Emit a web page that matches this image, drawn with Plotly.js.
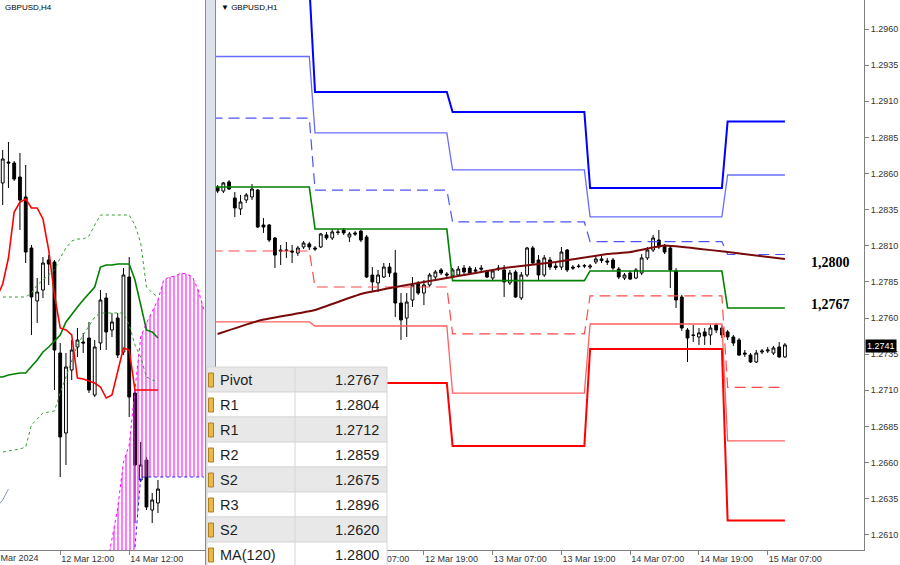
<!DOCTYPE html>
<html>
<head>
<meta charset="utf-8">
<script src="https://cdn.plot.ly/plotly-3.0.1.min.js"></script>
<style>html,body{margin:0;padding:0;background:#fff;}#chart{width:900px;height:565px;}</style>
</head>
<body>
<div id="chart"></div>
<script>
// ---------- H1 (right panel) data: bars from 11 Mar 07:00, hourly ----------
const h1FirstHour = 7; // hours after 2024-03-11 00:00
const h1Open = [1.28507,1.28479,1.28542,1.28431,1.28355,1.28417,1.28438,1.28486,1.28244,1.28244,
1.28154,1.28071,1.28071,1.28064,1.28050,1.28092,1.28113,1.28085,1.28092,1.28175,
1.28154,1.28196,1.28209,1.28161,1.28189,1.28202,1.28161,1.27898,1.27843,1.27884,
1.27953,1.27912,1.27704,1.27600,1.27725,1.27843,1.27773,1.27829,1.27884,1.27933,
1.27905,1.27891,1.27898,1.27946,1.27946,1.27933,1.27946,1.27926,1.27877,1.27946,
1.27933,1.27843,1.27919,1.27739,1.27898,1.28085,1.28002,1.27898,1.28002,1.27960,
1.27953,1.28071,1.27953,1.27960,1.27960,1.27953,1.27988,1.27998,1.27995,1.28002,
1.27939,1.27877,1.27912,1.27877,1.27912,1.28016,1.28071,1.28140,1.28099,1.28085,
1.27926,1.27746,1.27517,1.27483,1.27469,1.27504,1.27483,1.27552,1.27531,1.27504,
1.27469,1.27448,1.27358,1.27344,1.27296,1.27365,1.27372,1.27358,1.27400,1.27331];
const h1High = [1.28521,1.28542,1.28555,1.28472,1.28452,1.28465,1.28528,1.28493,1.28292,1.28251,
1.28161,1.28106,1.28126,1.28106,1.28099,1.28133,1.28126,1.28099,1.28189,1.28196,
1.28216,1.28216,1.28223,1.28196,1.28202,1.28209,1.28175,1.27953,1.27933,1.27981,
1.27981,1.28071,1.27773,1.27773,1.27884,1.27856,1.27863,1.27912,1.27933,1.27946,
1.27919,1.27946,1.27960,1.27967,1.27960,1.27953,1.27967,1.27933,1.27939,1.27967,
1.27967,1.27933,1.27933,1.27919,1.28092,1.28099,1.28036,1.28036,1.28023,1.27988,
1.28092,1.28078,1.27967,1.27974,1.27974,1.27974,1.28030,1.28030,1.28016,1.28016,
1.27953,1.27912,1.27926,1.27946,1.28043,1.28092,1.28175,1.28209,1.28113,1.28106,
1.27946,1.27760,1.27531,1.27552,1.27531,1.27531,1.27552,1.27566,1.27552,1.27517,
1.27483,1.27462,1.27379,1.27358,1.27379,1.27386,1.27400,1.27407,1.27434,1.27427];
const h1Low = [1.28465,1.28465,1.28486,1.28299,1.28313,1.28396,1.28417,1.28223,1.28189,1.28126,
1.27946,1.27967,1.28016,1.27981,1.28030,1.28078,1.28071,1.28064,1.28085,1.28140,
1.28140,1.28175,1.28175,1.28126,1.28168,1.28126,1.27877,1.27787,1.27780,1.27877,
1.27884,1.27607,1.27448,1.27469,1.27677,1.27760,1.27690,1.27815,1.27870,1.27898,
1.27877,1.27877,1.27884,1.27905,1.27898,1.27905,1.27919,1.27877,1.27863,1.27926,
1.27746,1.27829,1.27739,1.27725,1.27884,1.27967,1.27863,1.27884,1.27933,1.27933,
1.27933,1.27919,1.27933,1.27946,1.27946,1.27939,1.27974,1.27981,1.27967,1.27933,
1.27870,1.27863,1.27863,1.27870,1.27898,1.28002,1.28057,1.28078,1.28043,1.27808,
1.27670,1.27511,1.27296,1.27434,1.27414,1.27414,1.27414,1.27497,1.27462,1.27448,
1.27407,1.27338,1.27331,1.27289,1.27289,1.27351,1.27358,1.27344,1.27324,1.27324];
const h1Close = [1.28479,1.28535,1.28493,1.28362,1.28403,1.28452,1.28493,1.28230,1.28230,1.28140,
1.28036,1.28064,1.28068,1.28057,1.28085,1.28119,1.28092,1.28078,1.28182,1.28154,
1.28196,1.28193,1.28189,1.28182,1.28182,1.28140,1.27884,1.27850,1.27898,1.27953,
1.27912,1.27704,1.27587,1.27711,1.27829,1.27773,1.27829,1.27898,1.27919,1.27912,
1.27898,1.27933,1.27939,1.27919,1.27912,1.27926,1.27939,1.27884,1.27926,1.27943,
1.27850,1.27912,1.27746,1.27898,1.28085,1.27981,1.27898,1.28016,1.27953,1.27950,
1.28057,1.27933,1.27946,1.27957,1.27963,1.27960,1.28009,1.28009,1.27988,1.27946,
1.27884,1.27898,1.27870,1.27933,1.28016,1.28071,1.28154,1.28092,1.28057,1.27933,
1.27725,1.27531,1.27462,1.27480,1.27497,1.27476,1.27531,1.27517,1.27483,1.27469,
1.27427,1.27344,1.27351,1.27296,1.27358,1.27372,1.27379,1.27393,1.27331,1.27414];

// Daily pivot levels (11..15 Mar)
const pivotDays = ['2024-03-11','2024-03-12','2024-03-13','2024-03-14','2024-03-15'];
const levelR3 = [1.29904,1.29164,1.29026,1.28500,1.2896];
const levelR2 = [1.29410,1.28881,1.28625,1.28300,1.2859];
const levelR1 = [1.28984,1.28486,1.28265,1.28129,1.2804];
const levelP  = [1.28507,1.28216,1.27859,1.27926,1.2767];
const levelS1 = [1.28064,1.27815,1.27490,1.27753,1.2712];
const levelS2 = [1.27573,1.27545,1.27081,1.27559,1.2675];
const levelS3 = [1.27144,1.27151,1.26715,1.27386,1.2620];

// MA(120) readings (hour offsets from 11 Mar 00:00)
const maHours  = [7,14,24,32,40,48,57,66,75,79,85,96,106];
const maValues = [1.27490,1.27580,1.27656,1.27767,1.27829,1.27884,1.27946,1.27988,1.28043,1.28057,1.28102,1.28057,1.28009];

// Axis ticks (right panel)
const h1TickVals = ['2024-03-12 07:00','2024-03-12 19:00','2024-03-13 07:00','2024-03-13 19:00','2024-03-14 07:00','2024-03-14 19:00','2024-03-15 07:00'];
const h1TickText = ['12 Mar 07:00','12 Mar 19:00','13 Mar 07:00','13 Mar 19:00','14 Mar 07:00','14 Mar 19:00','15 Mar 07:00'];
const yTickVals = [1.2610,1.2635,1.2660,1.2685,1.2710,1.2735,1.2760,1.2785,1.2810,1.2835,1.2860,1.2885,1.2910,1.2935,1.2960];
const lastPrice = 1.2741;

// Table
const tableNames  = ['Pivot','R1','R1','R2','S2','R3','S2','MA(120)'];
const tableValues = ['1.2767','1.2804','1.2712','1.2859','1.2675','1.2896','1.2620','1.2800'];
const levelLabels = ['1,2800','1,2767'];
const levelLabelValues = [1.2800, 1.2767];

// ---------- H4 (left panel) data ----------
const h4Open  = [1.28668,1.28752,1.28748,1.28692,1.28612,1.28408,1.28196,1.28240,1.28360,1.28352,1.27988,1.27668,1.27920,1.28012,1.28032,1.28048,1.27820,1.28028,1.28208,1.28080,1.28128,1.27992,1.28292,1.27828,1.27480,1.27560,1.27360,1.27388];
const h4High  = [1.28800,1.28832,1.28756,1.28788,1.28740,1.28420,1.28288,1.28372,1.28380,1.28360,1.28028,1.27988,1.28040,1.28088,1.28068,1.28112,1.28040,1.28240,1.28228,1.28148,1.28148,1.28328,1.28372,1.27840,1.27632,1.27572,1.27428,1.27480];
const h4Low   = [1.28580,1.28648,1.28676,1.28480,1.28348,1.28060,1.28108,1.28208,1.28260,1.27840,1.27492,1.27540,1.27880,1.27972,1.27988,1.27828,1.27812,1.28000,1.28000,1.28052,1.27968,1.27980,1.27732,1.27308,1.27472,1.27360,1.27308,1.27348];
const h4Close = [1.28764,1.28748,1.28684,1.28600,1.28392,1.28212,1.28232,1.28348,1.28344,1.28000,1.27652,1.27932,1.28000,1.28040,1.28028,1.27840,1.28012,1.28200,1.28072,1.28112,1.27980,1.28300,1.27812,1.27540,1.27540,1.27372,1.27400,1.27444];
// indicator lines, bar index -1 .. 27
const tenkan = [1.28212,1.28264,1.28368,1.28552,1.28592,1.28604,1.28568,1.28568,1.28524,1.28400,1.28220,1.28088,1.28080,1.28060,1.27888,1.27884,1.27876,1.27868,1.27852,1.27808,1.27820,1.27916,1.28008,1.28000,1.27840,1.27840,1.27840,1.27840,1.27840];
const kijun  = [1.27892,1.27892,1.27900,1.27904,1.27908,1.27908,1.27932,1.27960,1.27992,1.28012,1.28036,1.28060,1.28112,1.28144,1.28172,1.28200,1.28228,1.28252,1.28332,1.28340,1.28340,1.28344,1.28344,1.28344,1.28280,1.28180,1.28080,1.28072,1.28048];
const upperDotted = [1.28212,1.28212,1.28212,1.28212,1.28212,1.28212,1.28228,1.28260,1.28280,1.28300,1.28320,1.28368,1.28408,1.28436,1.28444,1.28444,1.28456,1.28500,1.28540,1.28540,1.28540,1.28540,1.28540,1.28540,1.28500,1.28428,1.28252,1.28228,1.28212];
const lowerDotted = [1.27592,1.27592,1.27596,1.27600,1.27604,1.27612,1.27700,1.27724,1.27748,1.27752,1.27756,1.27828,1.27892,1.27952,1.28020,1.28060,1.28096,1.28132,1.28148,1.28148,1.28148,1.28148,1.28148,1.28100,1.28020,1.27972,1.27892,1.27880,1.27872];
// cloud, bar index 18 .. 35
const spanA = [1.27120,1.27240,1.27368,1.27552,1.27620,1.27840,1.28052,1.28108,1.28152,1.28200,1.28280,1.28292,1.28296,1.28308,1.28304,1.28292,1.28240,1.28160];
const spanB = [1.26920,1.26920,1.26920,1.26920,1.26920,1.27208,1.27492,1.27492,1.27492,1.27492,1.27492,1.27492,1.27492,1.27492,1.27492,1.27492,1.27492,1.27492];
// lagging line, bar index -1 .. 1
const chikou = [1.27372,1.27400,1.27444];
const h4TickVals = [10, 22];
const h4TickText = ['12 Mar 12:00','14 Mar 12:00'];

// ---------- helpers ----------
const W = 900, H = 565;
const px = v => v / W;
const py = v => 1 - v / H;
function hourStr(t) {
  const d = 11 + Math.floor(t / 24), h = t % 24;
  return '2024-03-' + String(d).padStart(2, '0') + ' ' + String(h).padStart(2, '0') + ':00';
}
const h1Times = h1Open.map((_, i) => hourStr(h1FirstHour + i));
const lastTime = h1Times[h1Times.length - 1];
function stepXs() {
  const xs = [];
  pivotDays.forEach((d, i) => {
    xs.push(d + ' 00:00');
    xs.push(i === pivotDays.length - 1 ? lastTime : d + ' 23:00');
  });
  return xs;
}
function stepYs(arr) { const ys = []; arr.forEach(v => { ys.push(v, v); }); return ys; }
const idx = (start, n) => Array.from({length: n}, (_, i) => start + i);

const traces = [];
// H1 candles
traces.push({
  type: 'candlestick', x: h1Times, open: h1Open, high: h1High, low: h1Low, close: h1Close,
  xaxis: 'x', yaxis: 'y',
  increasing: {line: {color: '#000', width: 1}, fillcolor: '#ffffff'},
  decreasing: {line: {color: '#000', width: 1}, fillcolor: '#000000'},
  whiskerwidth: 0, hoverinfo: 'skip', showlegend: false
});
const lvl = [
  [levelR3, '#0000ff', 2, 'solid'],
  [levelR2, '#6a6cff', 1.3, 'solid'],
  [levelR1, '#4a55ff', 1.2, '11px,6px'],
  [levelP,  '#008000', 1.6, 'solid'],
  [levelS1, '#ff4a4a', 1.2, '11px,6px'],
  [levelS2, '#ff6060', 1.3, 'solid'],
  [levelS3, '#ff0000', 2, 'solid']
];
lvl.forEach(([arr, c, w, dash]) => {
  traces.push({type: 'scatter', mode: 'lines', x: stepXs(), y: stepYs(arr), xaxis: 'x', yaxis: 'y',
    line: {color: c, width: w, dash: dash}, hoverinfo: 'skip', showlegend: false});
});
traces.push({type: 'scatter', mode: 'lines', x: maHours.map(hourStr), y: maValues, xaxis: 'x', yaxis: 'y',
  line: {color: '#7a0a0a', width: 2, shape: 'spline', smoothing: 0.3}, hoverinfo: 'skip', showlegend: false});

// H4 panel
traces.push({type: 'scatter', mode: 'lines', x: idx(18, spanB.length), y: spanB, xaxis: 'x2', yaxis: 'y2',
  line: {color: '#2020ff', width: 1, dash: 'dot'}, hoverinfo: 'skip', showlegend: false});
traces.push({type: 'scatter', mode: 'lines', x: idx(18, spanA.length), y: spanA, xaxis: 'x2', yaxis: 'y2',
  line: {color: '#ff00ff', width: 1, dash: 'dot'}, fill: 'tonexty', fillcolor: 'rgba(0,0,0,0)',
  fillpattern: {shape: '|', fgcolor: '#ff20ff', bgcolor: 'rgba(0,0,0,0)', size: 4, solidity: 0.3},
  hoverinfo: 'skip', showlegend: false});
traces.push({type: 'scatter', mode: 'lines', x: idx(-1, upperDotted.length), y: upperDotted, xaxis: 'x2', yaxis: 'y2',
  line: {color: '#33a033', width: 1, dash: 'dot'}, hoverinfo: 'skip', showlegend: false});
traces.push({type: 'scatter', mode: 'lines', x: idx(-1, lowerDotted.length), y: lowerDotted, xaxis: 'x2', yaxis: 'y2',
  line: {color: '#33a033', width: 1, dash: 'dot'}, hoverinfo: 'skip', showlegend: false});
traces.push({type: 'candlestick', x: idx(0, h4Open.length), open: h4Open, high: h4High, low: h4Low, close: h4Close,
  xaxis: 'x2', yaxis: 'y2',
  increasing: {line: {color: '#000', width: 1}, fillcolor: '#ffffff'},
  decreasing: {line: {color: '#000', width: 1}, fillcolor: '#000000'},
  whiskerwidth: 0, hoverinfo: 'skip', showlegend: false});
traces.push({type: 'scatter', mode: 'lines', x: idx(-1, kijun.length), y: kijun, xaxis: 'x2', yaxis: 'y2',
  line: {color: '#008000', width: 1.6}, hoverinfo: 'skip', showlegend: false});
traces.push({type: 'scatter', mode: 'lines', x: idx(-1, tenkan.length), y: tenkan, xaxis: 'x2', yaxis: 'y2',
  line: {color: '#ff0000', width: 1.6}, hoverinfo: 'skip', showlegend: false});
traces.push({type: 'scatter', mode: 'lines', x: idx(-1, chikou.length), y: chikou, xaxis: 'x2', yaxis: 'y2',
  line: {color: '#8a9ab8', width: 1}, hoverinfo: 'skip', showlegend: false});

const tickFont = {family: 'Liberation Sans, Arial, sans-serif', size: 9, color: '#333'};
const layout = {
  width: W, height: H, margin: {l: 0, r: 0, t: 0, b: 0},
  paper_bgcolor: '#fff', plot_bgcolor: '#fff', showlegend: false,
  xaxis: {domain: [px(216), px(864)], type: 'date', range: ['2024-03-11 06:43', '2024-03-15 23:48'],
    anchor: 'y', showgrid: false, zeroline: false, showline: true, linecolor: '#808080', linewidth: 1,
    ticks: 'outside', ticklen: 4, tickcolor: '#808080', tickvals: h1TickVals, ticktext: h1TickText,
    ticklabelposition: 'outside right', tickfont: tickFont, rangeslider: {visible: false}, fixedrange: true},
  yaxis: {domain: [15 / H, 1], range: [1.25995, 1.29801], anchor: 'x', side: 'right',
    showgrid: false, zeroline: false, showline: true, linecolor: '#808080', linewidth: 1,
    ticks: 'outside', ticklen: 4, tickcolor: '#808080', tickvals: yTickVals,
    ticktext: yTickVals.map(v => v.toFixed(4)), tickfont: tickFont, fixedrange: true},
  xaxis2: {domain: [0, px(205)], range: [-0.47, 35.18], anchor: 'y2',
    showgrid: false, zeroline: false, showline: true, linecolor: '#808080', linewidth: 1,
    ticks: 'outside', ticklen: 4, tickcolor: '#808080', tickvals: h4TickVals, ticktext: h4TickText,
    ticklabelposition: 'outside right', tickfont: tickFont, rangeslider: {visible: false}, fixedrange: true},
  yaxis2: {domain: [15 / H, 1], range: [1.2720, 1.2940], anchor: 'x2', visible: false, fixedrange: true},
  shapes: [],
  annotations: []
};

// panel separator
layout.shapes.push({type: 'rect', xref: 'paper', yref: 'paper', x0: px(205), x1: px(216), y0: 0, y1: 1,
  fillcolor: '#dde2ea', line: {width: 0}, layer: 'above'});
layout.shapes.push({type: 'line', xref: 'paper', yref: 'paper', x0: px(205.5), x1: px(205.5), y0: 0, y1: 1,
  line: {color: '#8a8a8a', width: 1}, layer: 'above'});
layout.shapes.push({type: 'line', xref: 'paper', yref: 'paper', x0: px(215.5), x1: px(215.5), y0: 0, y1: 1,
  line: {color: '#8a8a8a', width: 1}, layer: 'above'});

// table
const tTop = 367, rowH = 25, tL = 207, tR = 387, tMid = 295;
tableNames.forEach((name, r) => {
  const y0 = tTop + r * rowH, y1 = y0 + rowH;
  layout.shapes.push({type: 'rect', xref: 'paper', yref: 'paper', x0: px(tL), x1: px(tR), y0: py(y1), y1: py(y0),
    fillcolor: r % 2 === 0 ? '#e8e8e8' : '#ffffff', line: {color: '#d6d6d6', width: 1}, layer: 'above'});
  layout.shapes.push({type: 'line', xref: 'paper', yref: 'paper', x0: px(tMid), x1: px(tMid), y0: py(y1), y1: py(y0),
    line: {color: '#d6d6d6', width: 1}, layer: 'above'});
  layout.shapes.push({type: 'rect', xref: 'paper', yref: 'paper', x0: px(208.5), x1: px(213.5), y0: py(y0 + 20), y1: py(y0 + 6),
    fillcolor: '#e9b949', line: {color: '#b08020', width: 1}, layer: 'above'});
  layout.annotations.push({xref: 'paper', yref: 'paper', x: px(218), y: py(y0 + 12.5), xanchor: 'left', yanchor: 'middle',
    text: name, showarrow: false, font: {family: 'Liberation Sans, Arial, sans-serif', size: 14.5, color: '#1e1e1e'}});
  layout.annotations.push({xref: 'paper', yref: 'paper', x: px(381), y: py(y0 + 12.5), xanchor: 'right', yanchor: 'middle',
    text: tableValues[r], showarrow: false, font: {family: 'Liberation Sans, Arial, sans-serif', size: 14.5, color: '#1e1e1e'}});
});

// level labels
levelLabels.forEach((t, i) => {
  layout.annotations.push({xref: 'paper', yref: 'y', x: px(809), y: levelLabelValues[i], xanchor: 'left', yanchor: 'middle',
    yshift: i === 0 ? -2 : 3, text: '<b>' + t + '</b>', showarrow: false,
    font: {family: 'Liberation Serif, Times New Roman, serif', size: 14, color: '#000'}});
});
// last price tag
layout.annotations.push({xref: 'paper', yref: 'y', x: px(865), y: lastPrice, xanchor: 'left', yanchor: 'middle',
  text: lastPrice.toFixed(4), showarrow: false, bgcolor: '#000', borderpad: 1,
  font: {family: 'Liberation Sans, Arial, sans-serif', size: 9, color: '#fff'}});
// titles
layout.annotations.push({xref: 'paper', yref: 'paper', x: px(3), y: py(7), xanchor: 'left', yanchor: 'middle',
  text: 'GBPUSD,H4', showarrow: false, font: {family: 'Liberation Sans, Arial, sans-serif', size: 8, color: '#000'}});
layout.annotations.push({xref: 'paper', yref: 'paper', x: px(219), y: py(7), xanchor: 'left', yanchor: 'middle',
  text: '▼ GBPUSD,H1', showarrow: false, font: {family: 'Liberation Sans, Arial, sans-serif', size: 8, color: '#000'}});
// clipped first date label of the H4 panel
layout.annotations.push({xref: 'paper', yref: 'paper', x: px(-9), y: py(558), xanchor: 'left', yanchor: 'middle',
  text: '8 Mar 2024', showarrow: false, font: tickFont});

Plotly.newPlot('chart', traces, layout, {staticPlot: true, displayModeBar: false});
</script>
</body>
</html>
